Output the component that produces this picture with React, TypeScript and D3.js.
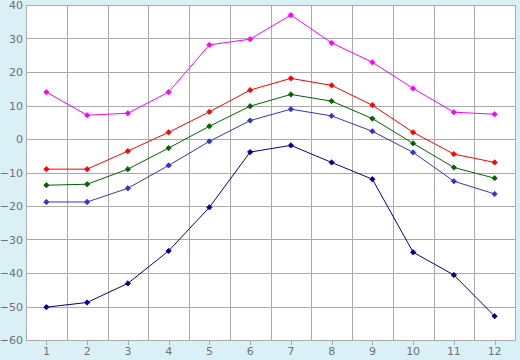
import React, { useEffect, useRef } from 'react';
import * as d3 from 'd3';

const months = ['1', '2', '3', '4', '5', '6', '7', '8', '9', '10', '11', '12'];
const yTicks = [40, 30, 20, 10, 0, -10, -20, -30, -40, -50, -60];

const seriesMax = [14.0, 7.1, 7.7, 14.0, 28.1, 29.8, 37.0, 28.7, 22.9, 15.1, 8.0, 7.4];
const seriesHigh = [-9.0, -9.0, -3.6, 2.0, 8.1, 14.6, 18.1, 16.0, 10.1, 2.0, -4.5, -7.0];
const seriesMean = [-13.8, -13.5, -9.0, -2.7, 3.8, 9.8, 13.3, 11.3, 6.1, -1.3, -8.5, -11.7];
const seriesLow = [-18.8, -18.8, -14.7, -7.9, -0.7, 5.5, 8.9, 6.9, 2.3, -4.0, -12.6, -16.4];
const seriesMin = [-50.2, -48.8, -43.1, -33.4, -20.4, -3.9, -1.9, -7.0, -12.0, -33.8, -40.6, -52.9];

const seriesColors = ['#ff00ff', '#ff0000', '#006400', '#3333cc', '#000099'];

export default function App() {
  const svgRef = useRef<SVGSVGElement>(null);

  useEffect(() => {
    const width = 520;
    const height = 360;
    const left = 26, right = 515, top = 5, bottom = 340;

    const svg = d3.select(svgRef.current);
    svg.selectAll('*').remove();

    svg.append('rect')
      .attr('width', width).attr('height', height)
      .attr('fill', '#daf0f7');

    svg.append('rect')
      .attr('x', left).attr('y', top)
      .attr('width', right - left).attr('height', bottom - top)
      .attr('fill', '#ffffff');

    const x = d3.scaleBand().domain(months).range([left, right]);
    const y = d3.scaleLinear().domain([-60, 40]).range([bottom, top]);
    const cx = (m: string) => (x(m) as number) + x.bandwidth() / 2;
    const snap = (v: number) => Math.round(v) + 0.5;

    const grid = svg.append('g').attr('stroke', '#aaaaaa').attr('stroke-width', 1);
    // horizontal grid
    grid.selectAll('line.h').data(yTicks).join('line')
      .attr('class', 'h')
      .attr('x1', left).attr('x2', right)
      .attr('y1', d => snap(y(d))).attr('y2', d => snap(y(d)));
    // vertical grid at band edges
    const edges = months.map(m => x(m) as number).concat([right]);
    grid.selectAll('line.v').data(edges).join('line')
      .attr('class', 'v')
      .attr('x1', d => snap(d)).attr('x2', d => snap(d))
      .attr('y1', top).attr('y2', bottom + 0.5);
    // tick marks below x axis
    grid.selectAll('line.t').data(months).join('line')
      .attr('class', 't')
      .attr('x1', d => snap(cx(d))).attr('x2', d => snap(cx(d)))
      .attr('y1', bottom).attr('y2', bottom + 5);

    const font = '"DejaVu Sans", Verdana, sans-serif';
    svg.append('g').selectAll('text').data(yTicks).join('text')
      .attr('x', 23).attr('y', d => y(d) + 4)
      .attr('text-anchor', 'end')
      .attr('font-family', font).attr('font-size', 11)
      .attr('fill', '#707070')
      .text(d => d3.format('')(d));

    svg.append('g').selectAll('text').data(months).join('text')
      .attr('x', d => cx(d)).attr('y', 355)
      .attr('text-anchor', 'middle')
      .attr('font-family', font).attr('font-size', 11)
      .attr('fill', '#707070')
      .text(d => d);

    const allSeries = [seriesMax, seriesHigh, seriesMean, seriesLow, seriesMin];
    const line = d3.line<number>()
      .x((_, i) => cx(months[i]))
      .y(d => y(d));
    // small square turned 45 degrees
    const marker = d3.symbol().type(d3.symbolSquare).size(14);

    allSeries.forEach((vals, si) => {
      const g = svg.append('g');
      g.append('path')
        .datum(vals)
        .attr('d', line)
        .attr('fill', 'none')
        .attr('stroke', seriesColors[si])
        .attr('stroke-width', 1);
      g.selectAll('path.m').data(vals).join('path')
        .attr('class', 'm')
        .attr('transform', (d, i) => `translate(${cx(months[i])},${y(d)}) rotate(45)`)
        .attr('d', marker)
        .attr('fill', seriesColors[si])
        .attr('stroke', seriesColors[si])
        .attr('stroke-width', 0.8);
    });
  }, []);

  return (
    <div style={{ position: 'absolute', left: 0, top: 0 }}>
      <svg ref={svgRef} width={520} height={360} style={{ display: 'block' }} />
    </div>
  );
}
